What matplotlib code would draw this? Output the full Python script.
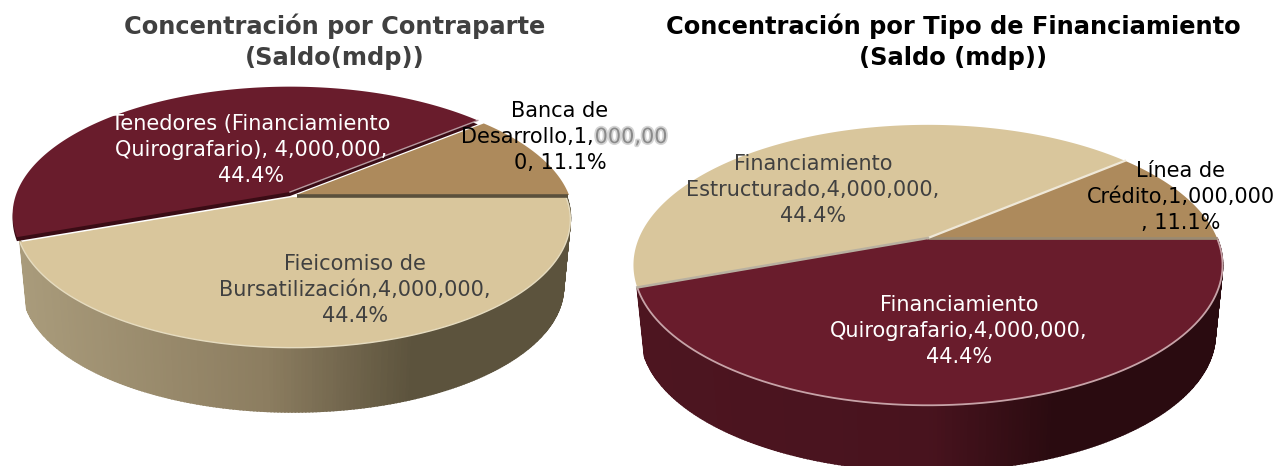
import numpy as np
import matplotlib
matplotlib.use("Agg")
import matplotlib.pyplot as plt
import matplotlib.patheffects as pe
from matplotlib.colors import LinearSegmentedColormap

plt.rcParams['font.family'] = ['DejaVu Sans']

W, H = 1277, 466

left_title = "Concentración por Contraparte\n(Saldo(mdp))"
left_values = [1000000, 4000000, 4000000]
left_labels = ["Banca de", "Tenedores (Financiamiento\nQuirografario), 4,000,000,\n44.4%",
               "Fieicomiso de\nBursatilización,4,000,000,\n44.4%"]

right_title = "Concentración por Tipo de Financiamiento\n(Saldo (mdp))"
right_values = [1000000, 4000000, 4000000]
right_labels = ["Línea de\nCrédito,1,000,000\n, 11.1%",
                "Financiamiento\nEstructurado,4,000,000,\n44.4%",
                "Financiamiento\nQuirografario,4,000,000,\n44.4%"]

BROWN = "#ad8a5c"
TAN = "#d9c69c"
RED = "#691c2c"

side_tan = LinearSegmentedColormap.from_list("st", [(0, "#a99b7b"), (0.45, "#8c7d60"), (0.72, "#5c533d"), (1, "#5c533d")])
side_red = LinearSegmentedColormap.from_list("sr", [(0, "#4d1520"), (0.5, "#48131e"), (0.72, "#2a0b10"), (1, "#2a0b10")])


def edges(values):
    # slice limits in degrees, counter clockwise from 3 o'clock
    return np.concatenate([[0], np.cumsum(values)]) / np.sum(values) * 360


def rim(p, t, scale=1.0, dy=0):
    # ellipse point with a bit of perspective, far side smaller
    t = np.radians(t)
    s = 1 / (1 + p["k"] * np.sin(t))
    x = p["cx"] + p["rx"] * scale * np.cos(t) * s
    y = p["cy"] - p["ry"] * scale * np.sin(t) * s + dy
    return x, y


def wedge(ax, p, a, b, color, off=(0, 0), z=3):
    t = np.linspace(a, b, 200)
    x, y = rim(p, t)
    ax.fill(np.r_[p["cx"], x] + off[0], np.r_[p["cy"], y] + off[1], color=color, lw=0, zorder=z)


def side(ax, p, a, b, cmap):
    t = np.linspace(a, b, 260)
    x0, y0 = rim(p, t)
    x1, y1 = rim(p, t, scale=0.975, dy=p["depth"])
    xmin, xmax = p["cx"] - p["rx"], p["cx"] + p["rx"]
    for i in range(len(t) - 1):
        c = cmap((x0[i] - xmin) / (xmax - xmin))
        ax.fill([x0[i], x0[i + 1], x1[i + 1], x1[i]], [y0[i], y0[i + 1], y1[i + 1], y1[i]],
                facecolor=c, edgecolor=c, lw=1.2, zorder=2)


fig = plt.figure(figsize=(W / 100, H / 100), dpi=100)
ax = fig.add_axes([0, 0, 1, 1])
ax.set_xlim(0, W)
ax.set_ylim(H, 0)
ax.axis("off")

# left pie
pl = dict(cx=293, cy=195, rx=273, ry=124, k=0.177, depth=70)
e = edges(left_values)
side(ax, pl, e[2], e[3], side_tan)
wedge(ax, pl, e[1], e[2], "#3a0c15", off=(-3, 1), z=3)
wedge(ax, pl, e[1], e[2], RED, off=(-3, -3), z=4)
wedge(ax, pl, e[2], e[3], TAN, off=(0, 2), z=5)
wedge(ax, pl, e[0], e[1], BROWN, off=(3, 0), z=3)
x, y = rim(pl, np.linspace(e[2], e[3], 200))
ax.plot(x, y + 2, color="#e6dcc0", lw=1.0, zorder=6)
x, y = rim(pl, e[0])
ax.plot([pl["cx"] + 4, x + 2], [pl["cy"] + 0.5, y + 0.5], color="#5a503c", lw=2.6, zorder=6, solid_capstyle="butt")
x, y = rim(pl, e[1])
ax.plot([pl["cx"] - 3, x - 3], [pl["cy"] - 3, y - 3], color="#b79aa0", lw=1.0, zorder=6)

# right pie
pr = dict(cx=928, cy=238, rx=289, ry=135, k=0.193, depth=70)
e = edges(right_values)
side(ax, pr, e[2], e[3], side_red)
wedge(ax, pr, e[1], e[2], TAN, z=3)
wedge(ax, pr, e[2], e[3], RED, z=4)
wedge(ax, pr, e[0], e[1], BROWN, z=3)
x, y = rim(pr, np.linspace(e[2], e[3], 200))
ax.plot(x, y, color="#c7a3a8", lw=1.3, zorder=6)
x, y = rim(pr, e[0])
ax.plot([pr["cx"], x], [pr["cy"], y], color="#9a8a72", lw=2.0, zorder=6, solid_capstyle="butt")
x, y = rim(pr, e[1])
ax.plot([pr["cx"], x], [pr["cy"], y], color="#efe8d8", lw=1.6, zorder=6)
x, y = rim(pr, e[2])
ax.plot([pr["cx"], x], [pr["cy"], y], color="#b8b0a0", lw=1.8, zorder=6)

# titles
ttl = dict(ha="center", va="center", fontsize=17.4, fontweight="bold", linespacing=1.36, zorder=10)
ax.text(335, 42, left_title, color="#404040", **ttl)
ax.text(953, 42, right_title, color="black", **ttl)

# labels
lab = dict(ha="center", va="center", fontsize=15, linespacing=1.35, zorder=10)
ax.text(251, 150, left_labels[1], color="white", **lab)
ax.text(355, 290, left_labels[2], color="#404040", **lab)
ax.text(560, 111, left_labels[0], color="black", **lab)
t1 = ax.text(461, 137, "Desarrollo,1,", color="black", **{**lab, "ha": "left"})
# blurred bit of the label goes right after the black part
bb = t1.get_window_extent(fig.canvas.get_renderer())
ax.text(bb.x1 + 1, 137, "000,00", color="#8a8a8a", path_effects=[pe.withStroke(linewidth=2.5, foreground="#d4d4d4")],
        **{**lab, "ha": "left"})
ax.text(560, 163, "0, 11.1%", color="black", **lab)

ax.text(813, 190, right_labels[1], color="#404040", **lab)
ax.text(959, 331, right_labels[2], color="white", **lab)
ax.text(1181, 197, right_labels[0], color="black", **lab)

fig.savefig("out.png", dpi=100, facecolor="white")
plt.close()
